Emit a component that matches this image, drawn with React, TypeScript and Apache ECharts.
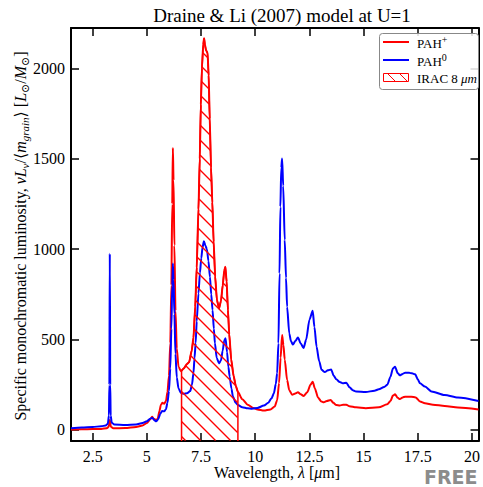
import React, { useEffect, useRef } from "react";
import * as echarts from "echarts";

const TITLE = "Draine & Li (2007) model at U=1";
const X_TICKS = [2.5, 5, 7.5, 10, 12.5, 15, 17.5, 20];
const Y_TICKS = [0, 500, 1000, 1500, 2000];
const X_MIN = 1.5;
const X_MAX = 20.3;
const Y_MIN = -61;
const Y_MAX = 2223;
const IRAC_BAND = [6.6, 9.2];
const SERIES_NAMES = ["PAH+", "PAH0", "IRAC 8 μm"];

// PAH+ (ionized) spectrum: [wavelength µm, luminosity]
const pahIon: number[][] = [
  [1.5, 3], [2.0, 4], [2.5, 5], [2.9, 6], [3.15, 9], [3.24, 18], [3.29, 55], [3.34, 18], [3.45, 9],
  [4.0, 11], [4.5, 17], [4.8, 25], [5.0, 38], [5.15, 58], [5.24, 73], [5.32, 62], [5.42, 55], [5.5, 62],
  [5.58, 105], [5.65, 140], [5.72, 150], [5.8, 145], [5.88, 160], [5.95, 210], [6.02, 300], [6.08, 480],
  [6.13, 800], [6.17, 1250], [6.2, 1560], [6.23, 1380], [6.27, 1020], [6.32, 660], [6.38, 450], [6.46, 350],
  [6.57, 325], [6.7, 340], [6.85, 365], [6.95, 375], [7.07, 440], [7.15, 510], [7.23, 680], [7.3, 900],
  [7.38, 1220], [7.44, 1500], [7.49, 1800], [7.54, 2000], [7.6, 2130], [7.64, 2166], [7.68, 2130],
  [7.73, 2100], [7.8, 2085], [7.85, 1960], [7.9, 1720], [7.96, 1450], [8.02, 1260], [8.08, 1040],
  [8.15, 850], [8.23, 720], [8.33, 672], [8.42, 715], [8.5, 800], [8.57, 880], [8.62, 902], [8.68, 820],
  [8.74, 663], [8.8, 530], [8.89, 390], [9.0, 300], [9.1, 245], [9.2, 210], [9.4, 170], [9.65, 140],
  [9.9, 122], [10.1, 113], [10.4, 107], [10.7, 113], [10.9, 130], [11.01, 165], [11.1, 260], [11.17, 400],
  [11.24, 525], [11.3, 470], [11.36, 390], [11.47, 276], [11.57, 220], [11.7, 195], [11.85, 202],
  [11.97, 208], [12.1, 197], [12.23, 188], [12.4, 208], [12.55, 250], [12.65, 267], [12.75, 230],
  [12.9, 178], [13.05, 158], [13.16, 153], [13.3, 160], [13.48, 166], [13.6, 150], [13.74, 138],
  [13.9, 136], [14.05, 139], [14.2, 140], [14.35, 131], [14.65, 125], [15.1, 120], [15.7, 125],
  [16.09, 142], [16.24, 160], [16.35, 190], [16.45, 197], [16.57, 178], [16.67, 171], [16.8, 180],
  [16.92, 184], [17.2, 184], [17.4, 180], [17.6, 158], [17.83, 148], [18.2, 140], [18.74, 133],
  [19.35, 124], [20.3, 113],
];

// PAH0 (neutral) spectrum: [wavelength µm, luminosity]
const pahNeu: number[][] = [
  [1.5, 10], [2.0, 14], [2.5, 17], [2.9, 20], [3.1, 25], [3.2, 35], [3.25, 80], [3.27, 250], [3.29, 975],
  [3.31, 250], [3.33, 80], [3.38, 40], [3.5, 30], [4.0, 28], [4.5, 30], [4.8, 38], [5.0, 48], [5.15, 62],
  [5.25, 68], [5.33, 55], [5.43, 48], [5.52, 58], [5.62, 90], [5.7, 105], [5.8, 103], [5.88, 115],
  [5.95, 150], [6.02, 215], [6.08, 340], [6.13, 560], [6.17, 800], [6.2, 920], [6.23, 830], [6.27, 640],
  [6.32, 420], [6.38, 290], [6.46, 230], [6.57, 205], [6.7, 200], [6.85, 203], [7.0, 215], [7.08, 250],
  [7.15, 315], [7.2, 400], [7.25, 480], [7.3, 600], [7.38, 755], [7.45, 870], [7.51, 950], [7.57, 1010],
  [7.63, 1044], [7.7, 1020], [7.77, 1000], [7.84, 935], [7.91, 847], [7.97, 750], [8.03, 663], [8.09, 560],
  [8.14, 480], [8.22, 400], [8.33, 368], [8.42, 385], [8.5, 440], [8.57, 495], [8.63, 507], [8.7, 430],
  [8.76, 350], [8.82, 295], [8.9, 230], [8.97, 185], [9.1, 150], [9.2, 138], [9.4, 126], [9.65, 120],
  [9.85, 118], [10.1, 122], [10.4, 135], [10.6, 150], [10.75, 175], [10.86, 203], [10.95, 255],
  [11.01, 313], [11.07, 480], [11.12, 866], [11.16, 1234], [11.2, 1450], [11.24, 1501], [11.29, 1350],
  [11.36, 1050], [11.42, 840], [11.47, 681], [11.57, 534], [11.65, 490], [11.74, 472], [11.85, 492],
  [11.97, 512], [12.1, 478], [12.23, 453], [12.35, 500], [12.5, 610], [12.65, 659], [12.73, 570],
  [12.83, 460], [12.95, 380], [13.06, 333], [13.21, 320], [13.35, 330], [13.5, 335], [13.62, 300],
  [13.74, 280], [13.9, 265], [14.04, 258], [14.2, 261], [14.35, 236], [14.5, 220], [14.65, 213],
  [15.1, 210], [15.5, 217], [15.7, 225], [15.95, 238], [16.09, 250], [16.24, 295], [16.35, 340],
  [16.45, 350], [16.57, 315], [16.67, 302], [16.8, 310], [16.92, 317], [17.1, 316], [17.23, 313],
  [17.38, 308], [17.5, 280], [17.6, 258], [17.83, 240], [18.13, 213], [18.74, 193], [19.35, 179],
  [20.3, 160],
];

const FONT = "'Liberation Serif', 'Times New Roman', 'DejaVu Serif', serif";
const RED = "#ff0000";
const BLUE = "#0000ff";
const HATCH_STEP = 15;

function interpAt(data: number[][], x: number): number {
  for (let i = 0; i < data.length - 1; i++) {
    const [x0, y0] = data[i];
    const [x1, y1] = data[i + 1];
    if (x >= x0 && x <= x1) return x1 === x0 ? y0 : y0 + ((y1 - y0) * (x - x0)) / (x1 - x0);
  }
  return data[data.length - 1][1];
}

// Top outline of the IRAC band region, taken from the PAH+ curve
const bandTop: number[][] = (() => {
  const [a, b] = IRAC_BAND;
  const pts: number[][] = [[a, interpAt(pahIon, a)]];
  for (const p of pahIon) if (p[0] > a && p[0] < b) pts.push(p);
  pts.push([b, interpAt(pahIon, b)]);
  return pts;
})();

export default function App() {
  const ref = useRef<HTMLDivElement>(null);
  useEffect(() => {
    if (!ref.current) return;
    const chart = echarts.init(ref.current, undefined, { renderer: "svg" });

    const axisCommon = {
      type: "value" as const,
      axisLine: { show: true, onZero: false, lineStyle: { color: "#000", width: 2 } },
      splitLine: { show: false },
    };
    const fmt = (v: number) => String(v);

    const hatchStyle = { stroke: "rgb(255,0,0)", lineWidth: 1.3, fill: "none" };

    const option: any = {
      animation: false,
      backgroundColor: "#fff",
      title: {
        text: TITLE,
        left: 277,
        top: 1,
        textAlign: "center",
        textStyle: { fontFamily: FONT, fontSize: 19, fontWeight: "normal", color: "#000" },
      },
      grid: { left: 71, right: -1, top: 28, bottom: 46, containLabel: false },
      xAxis: [
        {
          ...axisCommon,
          position: "bottom",
          min: X_MIN,
          max: X_MAX,
          axisTick: { show: true, inside: true, length: 8, customValues: X_TICKS, lineStyle: { color: "#000", width: 1.5 } },
          axisLabel: { show: true, customValues: X_TICKS, formatter: fmt, margin: 7, fontFamily: FONT, fontSize: 16, color: "#000" },
        },
        {
          ...axisCommon,
          position: "top",
          min: X_MIN,
          max: X_MAX,
          axisTick: { show: true, inside: true, length: 8, customValues: X_TICKS, lineStyle: { color: "#000", width: 1.5 } },
          axisLabel: { show: false },
        },
      ],
      yAxis: [
        {
          ...axisCommon,
          position: "left",
          min: Y_MIN,
          max: Y_MAX,
          axisTick: { show: true, inside: true, length: 8, customValues: Y_TICKS, lineStyle: { color: "#000", width: 1.5 } },
          axisLabel: { show: true, customValues: Y_TICKS, formatter: fmt, margin: 6, fontFamily: FONT, fontSize: 16, color: "#000" },
        },
        {
          ...axisCommon,
          position: "right",
          min: Y_MIN,
          max: Y_MAX,
          axisTick: { show: true, inside: true, length: 8, customValues: Y_TICKS, lineStyle: { color: "#000", width: 1.5 } },
          axisLabel: { show: false },
        },
      ],
      series: [
        {
          name: SERIES_NAMES[0],
          type: "line",
          data: pahIon,
          showSymbol: false,
          smooth: 0.25,
          smoothMonotone: "x",
          lineStyle: { color: RED, width: 2 },
          itemStyle: { color: RED },
          z: 3,
        },
        {
          name: SERIES_NAMES[1],
          type: "line",
          data: pahNeu,
          showSymbol: false,
          smooth: 0.25,
          smoothMonotone: "x",
          lineStyle: { color: BLUE, width: 2 },
          itemStyle: { color: BLUE },
          z: 4,
        },
        {
          name: SERIES_NAMES[2],
          type: "custom",
          data: [[IRAC_BAND[0], 0]],
          clip: true,
          z: 5,
          itemStyle: { color: RED, borderColor: RED },
          renderItem: (_params: any, api: any) => {
            const top = bandTop.map((p) => api.coord(p));
            const bl = api.coord([IRAC_BAND[0], Y_MIN]);
            const br = api.coord([IRAC_BAND[1], Y_MIN]);
            const yb = bl[1];
            const xl = top[0][0];
            const xr = top[top.length - 1][0];
            const curveY = (x: number) => {
              for (let i = 0; i < top.length - 1; i++) {
                const [x0, y0] = top[i];
                const [x1, y1] = top[i + 1];
                if (x >= x0 && x <= x1) return x1 === x0 ? Math.min(y0, y1) : y0 + ((y1 - y0) * (x - x0)) / (x1 - x0);
              }
              return yb;
            };
            const minY = Math.min(...top.map((p: number[]) => p[1]));
            const children: any[] = [];
            const cMin = Math.floor((minY - xr) / HATCH_STEP) * HATCH_STEP;
            const cMax = yb - xl;
            const pushSeg = (s: number[], e: number[]) => {
              children.push({ type: "polyline", shape: { points: [s, e] }, style: { ...hatchStyle } });
            };
            for (let c = cMin; c <= cMax; c += HATCH_STEP) {
              let start: number[] | null = null;
              let last: number[] | null = null;
              for (let x = xl; x <= xr + 0.001; x += 0.5) {
                const y = x + c;
                const inside = y >= curveY(x) && y <= yb;
                if (inside) {
                  if (!start) start = [x, y];
                  last = [x, y];
                } else if (start && last) {
                  pushSeg(start, last);
                  start = null;
                  last = null;
                }
              }
              if (start && last) pushSeg(start, last);
            }
            children.push({
              type: "polyline",
              shape: { points: [bl, ...top, br] },
              style: { stroke: RED, lineWidth: 1.5, fill: "none" },
            });
            return { type: "group", children };
          },
        },
      ],
      graphic: [
        {
          type: "text",
          x: 20,
          y: 236,
          rotation: Math.PI / 2,
          style: {
            text: "{n|Specific monochromatic luminosity, }{i|νL}{s|ν}{n|/⟨}{i|m}{s|grain}{n|⟩ [}{i|L}{s|⊙}{n|/}{i|M}{s|⊙}{n|]}",
            align: "center",
            verticalAlign: "middle",
            fill: "#000",
            rich: {
              n: { fontFamily: FONT, fontSize: 16, lineHeight: 20, fill: "#000", verticalAlign: "middle" },
              i: { fontFamily: FONT, fontSize: 16, fontStyle: "italic", lineHeight: 20, fill: "#000", verticalAlign: "middle" },
              s: { fontFamily: FONT, fontSize: 11, fontStyle: "italic", lineHeight: 20, fill: "#000", verticalAlign: "bottom" },
            },
          },
        },
        {
          type: "text",
          x: 277,
          y: 472,
          style: {
            text: "{n|Wavelength, }{i|λ}{n| [}{i|μ}{n|m]}",
            align: "center",
            verticalAlign: "middle",
            rich: {
              n: { fontFamily: FONT, fontSize: 16, fill: "#000" },
              i: { fontFamily: FONT, fontSize: 16, fontStyle: "italic", fill: "#000" },
            },
          },
        },
        // legend box
        {
          type: "rect",
          shape: { x: 379.5, y: 33.5, width: 99, height: 56, r: 3 },
          style: { fill: "rgba(255,255,255,0.85)", stroke: "#888", lineWidth: 1 },
          z: 10,
        },
        { type: "line", shape: { x1: 383, y1: 42, x2: 409, y2: 42 }, style: { stroke: RED, lineWidth: 2 }, z: 11 },
        { type: "line", shape: { x1: 383, y1: 60, x2: 409, y2: 60 }, style: { stroke: BLUE, lineWidth: 2 }, z: 11 },
        { type: "rect", shape: { x: 383.5, y: 73.5, width: 25, height: 8 }, style: { fill: "none", stroke: RED, lineWidth: 1 }, z: 11 },
        { type: "line", shape: { x1: 388, y1: 74, x2: 395, y2: 81 }, style: { stroke: RED, lineWidth: 1 }, z: 11 },
        { type: "line", shape: { x1: 400, y1: 74, x2: 407, y2: 81 }, style: { stroke: RED, lineWidth: 1 }, z: 11 },
        {
          type: "text",
          x: 417,
          y: 42,
          z: 11,
          style: {
            text: "{n|PAH}{p|+}",
            verticalAlign: "middle",
            rich: {
              n: { fontFamily: FONT, fontSize: 13, fill: "#000", lineHeight: 16, verticalAlign: "bottom" },
              p: { fontFamily: FONT, fontSize: 10, fill: "#000", lineHeight: 16, verticalAlign: "top" },
            },
          },
        },
        {
          type: "text",
          x: 417,
          y: 60,
          z: 11,
          style: {
            text: "{n|PAH}{p|0}",
            verticalAlign: "middle",
            rich: {
              n: { fontFamily: FONT, fontSize: 13, fill: "#000", lineHeight: 16, verticalAlign: "bottom" },
              p: { fontFamily: FONT, fontSize: 10, fill: "#000", lineHeight: 16, verticalAlign: "top" },
            },
          },
        },
        {
          type: "text",
          x: 417,
          y: 78,
          z: 11,
          style: {
            text: "{n|IRAC 8 }{i|μm}",
            verticalAlign: "middle",
            rich: {
              n: { fontFamily: FONT, fontSize: 13, fill: "#000" },
              i: { fontFamily: FONT, fontSize: 13, fontStyle: "italic", fill: "#000" },
            },
          },
        },
        {
          type: "text",
          x: 424,
          y: 477,
          z: 11,
          style: {
            text: "FREE",
            verticalAlign: "middle",
            fontFamily: "'DejaVu Sans', sans-serif",
            fontSize: 19,
            fontWeight: "bold",
            fill: "#8c8c8c",
          },
        },
      ],
    };

    chart.setOption(option);
    return () => chart.dispose();
  }, []);

  return <div ref={ref} style={{ position: "absolute", left: 0, top: 0, width: 483, height: 487 }} />;
}
